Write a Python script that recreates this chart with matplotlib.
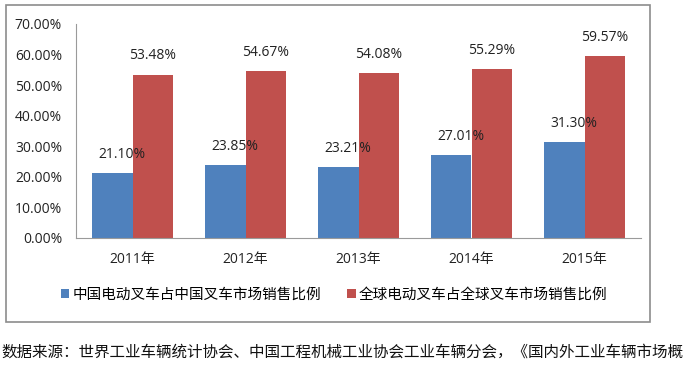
import matplotlib
matplotlib.use("Agg")
import matplotlib.pyplot as plt
from matplotlib.patches import Rectangle

plt.rcParams['font.family'] = ['Noto Sans CJK SC', 'DejaVu Sans']

years = ["2011年", "2012年", "2013年", "2014年", "2015年"]
china = [21.10, 23.85, 23.21, 27.01, 31.30]
world = [53.48, 54.67, 54.08, 55.29, 59.57]
series_names = ["中国电动叉车占中国叉车市场销售比例", "全球电动叉车占全球叉车市场销售比例"]
yticks = [0, 10, 20, 30, 40, 50, 60, 70]
caption = "数据来源：世界工业车辆统计协会、中国工程机械工业协会工业车辆分会，《国内外工业车辆市场概"

blue = "#4F81BD"
red = "#C0504D"
num_font = ["Open Sans", "DejaVu Sans"]

fig = plt.figure(figsize=(7, 3.69), dpi=100)
W, H = 700, 369

# chart border
fig.patches.append(Rectangle((6 / W, 1 - 322 / H), (650 - 6) / W, (322 - 5) / H,
                             transform=fig.transFigure, fill=False,
                             edgecolor="#8c8c8c", linewidth=1.2))

ax = fig.add_axes([76 / W, 1 - 238 / H, (641 - 76) / W, (238 - 24) / H])
x = list(range(len(years)))
bw = 0.355
b1 = ax.bar([i - bw / 2 for i in x], china, width=bw, color=blue, label=series_names[0])
b2 = ax.bar([i + bw / 2 for i in x], world, width=bw, color=red, label=series_names[1])

for i, v in enumerate(china):
    ax.annotate(f"{v:.2f}%", (i - bw / 2, v), xytext=(7, 8), textcoords="offset points",
                ha="center", va="bottom", fontsize=10, color="#222222", family=num_font)
for i, v in enumerate(world):
    ax.annotate(f"{v:.2f}%", (i + bw / 2, v), xytext=(0, 8), textcoords="offset points",
                ha="center", va="bottom", fontsize=10, color="#222222", family=num_font)

ax.set_xlim(-0.5, len(years) - 0.5)
ax.set_ylim(0, 70)
ax.set_yticks(yticks)
ax.set_yticklabels([f"{t:.2f}%" for t in yticks], family=num_font, fontsize=10)
ax.set_xticks(x)
ax.set_xticklabels(years, fontsize=10, family=["Open Sans", "Noto Sans CJK SC"])
ax.tick_params(axis="y", length=0, pad=10, colors="#222222")
ax.tick_params(axis="x", length=0, pad=10, colors="#222222")
for s in ["top", "right"]:
    ax.spines[s].set_visible(False)
ax.spines["left"].set_color("#9a9a9a")
ax.spines["bottom"].set_color("#9a9a9a")

fig.legend(handles=[b1, b2], labels=series_names, loc="center",
           bbox_to_anchor=(334 / W, 1 - 295 / H), ncol=2, frameon=False,
           fontsize=10.5, handlelength=0.6, handleheight=0.6, handletextpad=0.2,
           columnspacing=1.8)

fig.text(1 / W, 1 - 352 / H, caption, fontsize=11.2, va="center", ha="left",
         color="#111111", fontweight="medium")

fig.savefig("out.png", dpi=100)
